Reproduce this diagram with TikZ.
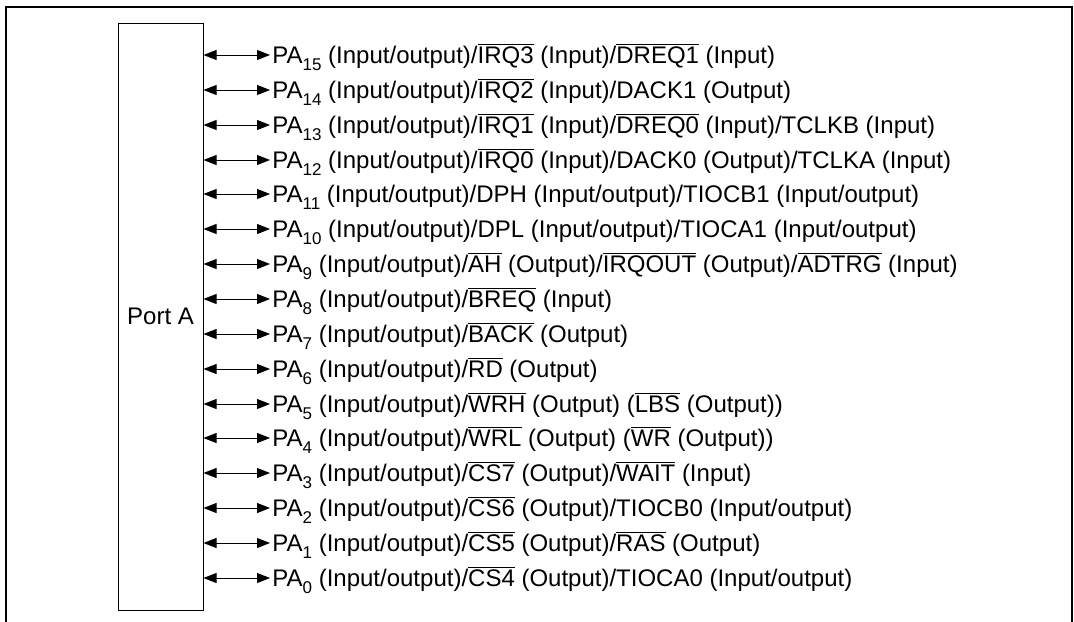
\documentclass[tikz,border=0pt]{standalone}
\usepackage{fontspec}
\setmainfont{Liberation Sans}
\usetikzlibrary{arrows.meta,positioning}

\newcommand{\ovl}[1]{$\overline{\mbox{#1}}$}
\newcommand{\pasub}[1]{\raisebox{-0.3em}{\fontsize{8.5pt}{10pt}\selectfont #1}}

\begin{document}
\begin{tikzpicture}[
        x=0.5pt, y=-0.5pt,
        font=\fontsize{12pt}{14pt}\selectfont,
        puerto/.style={draw, line width=0.5pt, minimum width=42.5pt, minimum height=293.5pt, inner sep=0pt},
        senal/.style={anchor=west, inner sep=1pt, text height=10pt, text depth=1.4pt},
        flecha/.style={{Triangle[length=6.5pt,width=5pt]}-{Triangle[length=6.5pt,width=5pt]}, line width=0.5pt}
    ]
        \useasboundingbox (0,0) rectangle (1074,621);
        \draw[line width=1pt] (6,622) -- (6,7) -- (1072,7) -- (1072,622);

        \node[puerto] (port) at (160.5,316.5) {Port A};

        \node[senal] (pa15) at (270,55) {PA\pasub{15} (Input/output)/\ovl{IRQ3} (Input)/\ovl{DREQ1} (Input)};
        \node[senal] (pa14) at (270,90) {PA\pasub{14} (Input/output)/\ovl{IRQ2} (Input)/DACK1 (Output)};
        \node[senal] (pa13) at (270,125) {PA\pasub{13} (Input/output)/\ovl{IRQ1} (Input)/\ovl{DREQ0} (Input)/TCLKB (Input)};
        \node[senal] (pa12) at (270,160) {PA\pasub{12} (Input/output)/\ovl{IRQ0} (Input)/DACK0 (Output)/TCLKA (Input)};
        \node[senal] (pa11) at (270,194) {PA\pasub{11} (Input/output)/DPH (Input/output)/TIOCB1 (Input/output)};
        \node[senal] (pa10) at (270,229) {PA\pasub{10} (Input/output)/DPL (Input/output)/TIOCA1 (Input/output)};
        \node[senal] (pa9) at (270,264) {PA\pasub{9} (Input/output)/\ovl{AH} (Output)/\ovl{IRQOUT} (Output)/\ovl{ADTRG} (Input)};
        \node[senal] (pa8) at (270,299) {PA\pasub{8} (Input/output)/\ovl{BREQ} (Input)};
        \node[senal] (pa7) at (270,334) {PA\pasub{7} (Input/output)/\ovl{BACK} (Output)};
        \node[senal] (pa6) at (270,369) {PA\pasub{6} (Input/output)/\ovl{RD} (Output)};
        \node[senal] (pa5) at (270,404) {PA\pasub{5} (Input/output)/\ovl{WRH} (Output) (\ovl{LBS} (Output))};
        \node[senal] (pa4) at (270,438) {PA\pasub{4} (Input/output)/\ovl{WRL} (Output) (\ovl{WR} (Output))};
        \node[senal] (pa3) at (270,473) {PA\pasub{3} (Input/output)/\ovl{CS7} (Output)/\ovl{WAIT} (Input)};
        \node[senal] (pa2) at (270,508) {PA\pasub{2} (Input/output)/\ovl{CS6} (Output)/TIOCB0 (Input/output)};
        \node[senal] (pa1) at (270,543) {PA\pasub{1} (Input/output)/\ovl{CS5} (Output)/\ovl{RAS} (Output)};
        \node[senal] (pa0) at (270,578) {PA\pasub{0} (Input/output)/\ovl{CS4} (Output)/TIOCA0 (Input/output)};

        \draw[flecha] (port.east |- pa15.west) -- (pa15.west);
        \draw[flecha] (port.east |- pa14.west) -- (pa14.west);
        \draw[flecha] (port.east |- pa13.west) -- (pa13.west);
        \draw[flecha] (port.east |- pa12.west) -- (pa12.west);
        \draw[flecha] (port.east |- pa11.west) -- (pa11.west);
        \draw[flecha] (port.east |- pa10.west) -- (pa10.west);
        \draw[flecha] (port.east |- pa9.west) -- (pa9.west);
        \draw[flecha] (port.east |- pa8.west) -- (pa8.west);
        \draw[flecha] (port.east |- pa7.west) -- (pa7.west);
        \draw[flecha] (port.east |- pa6.west) -- (pa6.west);
        \draw[flecha] (port.east |- pa5.west) -- (pa5.west);
        \draw[flecha] (port.east |- pa4.west) -- (pa4.west);
        \draw[flecha] (port.east |- pa3.west) -- (pa3.west);
        \draw[flecha] (port.east |- pa2.west) -- (pa2.west);
        \draw[flecha] (port.east |- pa1.west) -- (pa1.west);
        \draw[flecha] (port.east |- pa0.west) -- (pa0.west);
    \end{tikzpicture}
\end{document}
